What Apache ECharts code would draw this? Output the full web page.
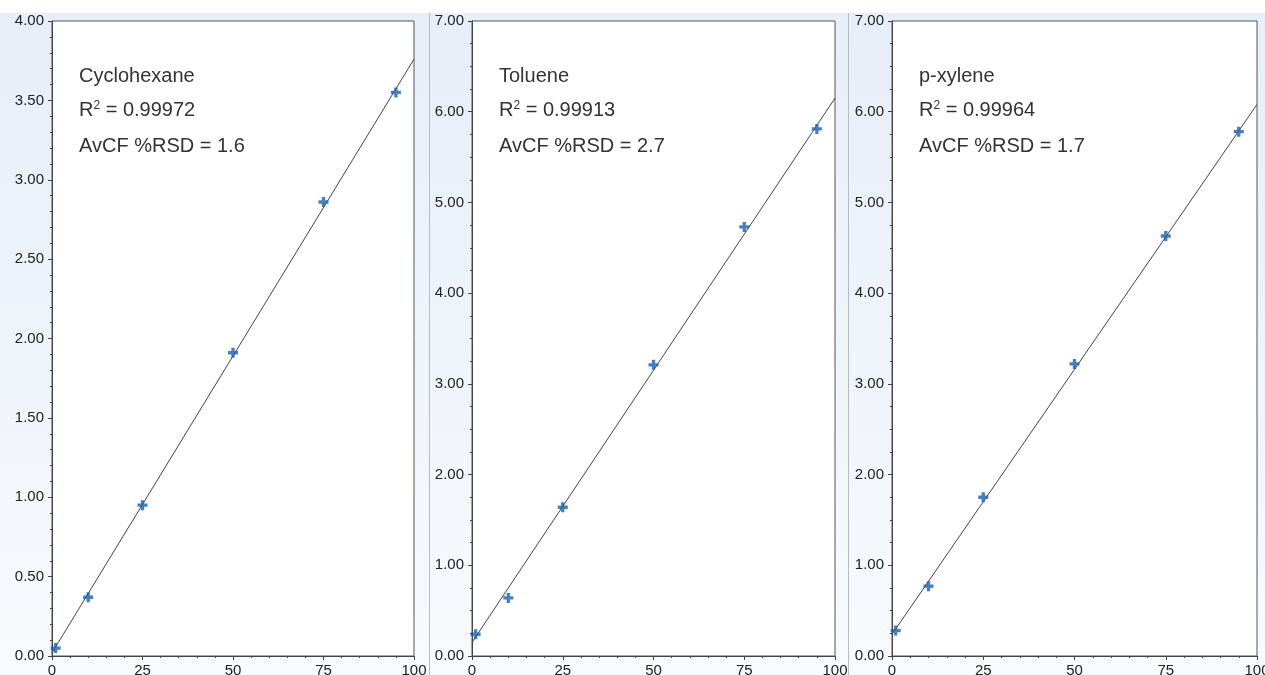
<!DOCTYPE html>
<html>
<head>
<meta charset="utf-8">
<script src="https://cdn.jsdelivr.net/npm/echarts@6/dist/echarts.min.js"></script>
<style>
  html, body { margin: 0; padding: 0; background: #fff; }
  #chart { width: 1265px; height: 675px; }
</style>
</head>
<body>
<div id="chart"></div>
<script>
// concentrations (x) shared by all three calibrations
const levels = [1, 10, 25, 50, 75, 95];

// compound names + stats
const compounds = ['Cyclohexane', 'Toluene', 'p-xylene'];
const r2Values = ['0.99972', '0.99913', '0.99964'];
const rsdValues = ['1.6', '2.7', '1.7'];

// response values
const cyclohexaneY = [0.05, 0.37, 0.95, 1.91, 2.86, 3.55];
const tolueneY = [0.24, 0.64, 1.64, 3.21, 4.73, 5.81];
const xyleneY = [0.28, 0.77, 1.75, 3.22, 4.63, 5.78];

// fitted line: value at x=0 and at x=100
const fitStart = [0.02, 0.15, 0.24];
const fitEnd = [3.76, 6.15, 6.08];

// y axis ranges
const yMax = [4, 7, 7];
const yStep = [0.5, 1, 1];
const yMinorSplit = [5, 4, 4];

const seriesY = [cyclohexaneY, tolueneY, xyleneY];

const chart = echarts.init(document.getElementById('chart'));

const grids = [
  { left: 52, top: 21, width: 362, height: 635 },
  { left: 472, top: 21, width: 363, height: 635 },
  { left: 892, top: 21, width: 365, height: 635 }
];

const plusPath = 'path://M3,0H6V3H9V6H6V9H3V6H0V3H3Z';

const xAxes = [], yAxes = [], series = [], texts = [];
grids.forEach((g, i) => {
  xAxes.push({
    type: 'value', gridIndex: i, min: 0, max: 100, interval: 25, offset: 3,
    axisLine: { show: true, lineStyle: { color: '#444', width: 1 } },
    axisTick: { show: true, length: 4, lineStyle: { color: '#444' } },
    minorTick: { show: true, splitNumber: 5, length: 2, lineStyle: { color: '#444' } },
    splitLine: { show: false },
    axisLabel: { color: '#222', fontSize: 15, margin: 4, fontFamily: 'Liberation Sans' }
  });
  yAxes.push({
    type: 'value', gridIndex: i, min: 0, max: yMax[i], interval: yStep[i], offset: 3,
    axisLine: { show: true, lineStyle: { color: '#444', width: 1 } },
    axisTick: { show: true, length: 4, lineStyle: { color: '#444' } },
    minorTick: { show: true, splitNumber: yMinorSplit[i], length: 2, lineStyle: { color: '#444' } },
    splitLine: { show: false },
    axisLabel: { color: '#222', fontSize: 15, margin: 5, fontFamily: 'Liberation Sans',
      formatter: v => v.toFixed(2) }
  });
  series.push({
    type: 'line', xAxisIndex: i, yAxisIndex: i, silent: true,
    data: [[0, fitStart[i]], [100, fitEnd[i]]],
    symbol: 'none', lineStyle: { color: '#444', width: 1 }, z: 2
  });
  series.push({
    type: 'scatter', xAxisIndex: i, yAxisIndex: i,
    data: levels.map((x, k) => [x, seriesY[i][k]]),
    symbol: plusPath, symbolSize: 10,
    itemStyle: { color: '#165fb0' }, z: 3
  });
  const tx = g.left + 27;
  const baseStyle = { fill: '#333', fontSize: 20, fontFamily: 'Liberation Sans' };
  texts.push({ type: 'text', left: tx, top: 66, z: 10,
    style: Object.assign({ text: compounds[i] }, baseStyle) });
  texts.push({ type: 'text', left: tx, top: 100, z: 10,
    style: Object.assign({ text: 'R{sup|2} = ' + r2Values[i],
      rich: { sup: { fontSize: 12, fill: '#333', fontFamily: 'Liberation Sans', verticalAlign: 'top', padding: [0, 0, 8, 0] } } }, baseStyle) });
  texts.push({ type: 'text', left: tx, top: 136, z: 10,
    style: Object.assign({ text: 'AvCF %RSD = ' + rsdValues[i] }, baseStyle) });
});

const option = {
  backgroundColor: '#fff',
  animation: false,
  graphic: [
    { type: 'rect', left: 0, top: 13, z: -10, silent: true,
      shape: { width: 1265, height: 662 },
      style: { fill: new echarts.graphic.LinearGradient(0, 0, 0, 1, [
        { offset: 0, color: '#e6eef8' }, { offset: 1, color: '#f8fafd' }]) } },
    { type: 'rect', left: 429, top: 13, z: -9, silent: true,
      shape: { width: 1, height: 662 }, style: { fill: '#b8bcc2' } },
    { type: 'rect', left: 848, top: 13, z: -9, silent: true,
      shape: { width: 1, height: 662 }, style: { fill: '#b8bcc2' } }
  ].concat(texts),
  grid: grids.map(g => Object.assign({ show: true, backgroundColor: '#fff',
    borderColor: '#555', borderWidth: 1, outerBoundsMode: 'none' }, g)),
  xAxis: xAxes,
  yAxis: yAxes,
  series: series
};

chart.setOption(option);
</script>
</body>
</html>
